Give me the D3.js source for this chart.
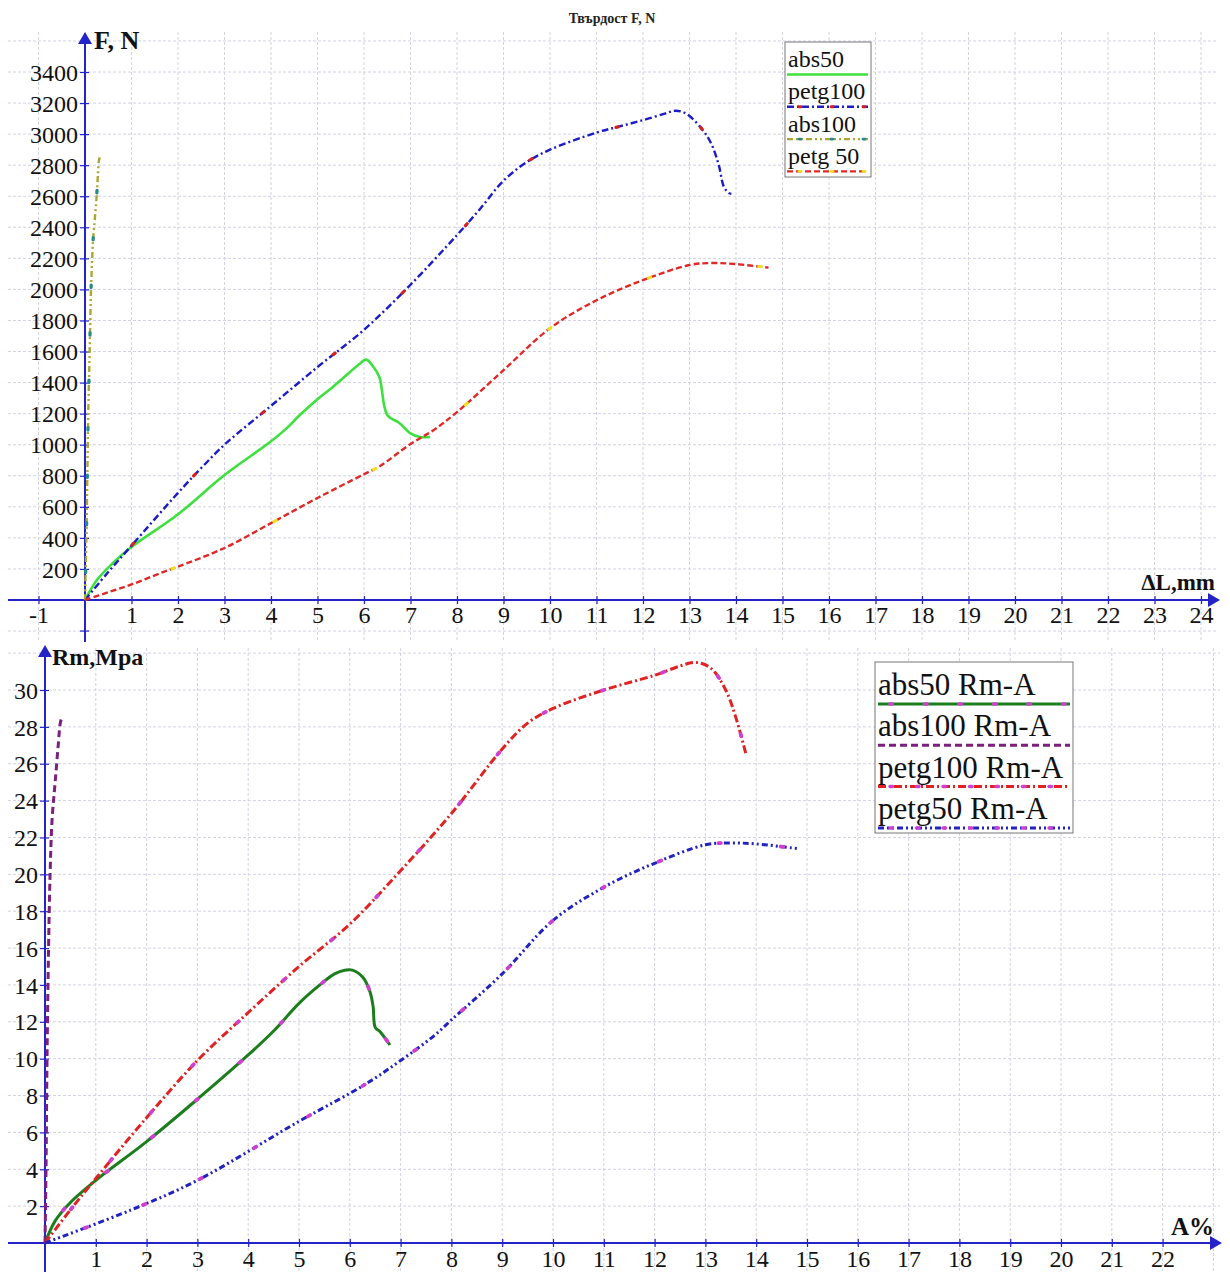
<!DOCTYPE html>
<html><head><meta charset="utf-8">
<script src="https://cdn.jsdelivr.net/npm/d3@7"></script>
<style>body{margin:0;background:#fff}svg{display:block}svg text{font-family:'Liberation Serif','Times New Roman',serif !important}</style>
</head><body>
<svg id="c" width="1230" height="1272"></svg>
<script>
// ---------- DATA ----------
const topTitle = "Твърдост F, N";
const topXTicks = [-1,1,2,3,4,5,6,7,8,9,10,11,12,13,14,15,16,17,18,19,20,21,22,23,24];
const topYTicks = [200,400,600,800,1000,1200,1400,1600,1800,2000,2200,2400,2600,2800,3000,3200,3400];
const botXTicks = [1,2,3,4,5,6,7,8,9,10,11,12,13,14,15,16,17,18,19,20,21,22];
const botYTicks = [2,4,6,8,10,12,14,16,18,20,22,24,26,28,30];

const topNames = ["abs50","petg100","abs100","petg 50"];
const abs50F = [[0,0],[0.26,130],[0.6,238],[0.97,335],[1.98,547],[3.0,805],[3.98,1017],[4.34,1107],[4.62,1191],[4.98,1288],[5.33,1372],[5.7,1468],[5.9,1520],[6.05,1548],[6.18,1510],[6.33,1436],[6.5,1191],[6.76,1140],[6.99,1075],[7.2,1050],[7.42,1050]];
const petg100F = [[0,0],[0.5,180],[1,350],[2,690],[2.5,850],[3,1000],[4,1250],[5,1500],[6,1740],[7,2030],[8,2350],[8.5,2520],[9,2700],[9.5,2820],[10,2900],[11,3010],[11.5,3050],[12,3090],[12.45,3130],[12.7,3150],[12.94,3130],[13.3,3020],[13.48,2930],[13.63,2800],[13.74,2660],[13.85,2620],[13.9,2615]];
const abs100F = [[0,0],[0.03,400],[0.05,800],[0.07,1200],[0.1,1600],[0.13,2000],[0.17,2300],[0.21,2450],[0.25,2600],[0.28,2750],[0.3,2830],[0.33,2860]];
const petg50F = [[0,0],[0.5,50],[1,100],[1.68,180],[2,215],[3,335],[4,495],[5,657],[6,810],[6.33,860],[7,1005],[7.5,1095],[8,1210],[9,1480],[10,1750],[11,1930],[12,2060],[13,2157],[13.5,2170],[14,2163],[14.7,2140]];

const botNames = ["abs50 Rm-A","abs100 Rm-A","petg100 Rm-A","petg50 Rm-A"];
const abs50R = [[0,0],[0.2,1.2],[0.5,2.2],[1,3.4],[2,5.5],[3,7.8],[4,10.2],[4.5,11.5],[5,13.0],[5.41,14.0],[5.7,14.6],[5.9,14.8],[6.05,14.8],[6.26,14.4],[6.4,13.6],[6.46,12.8],[6.5,11.7],[6.6,11.45],[6.79,10.74]];
const abs100R = [[0,0],[0.02,4],[0.04,10],[0.07,16],[0.1,20],[0.14,23],[0.2,25],[0.26,27],[0.3,28.2],[0.33,28.5]];
const petg100R = [[0,0],[0.5,1.8],[1,3.5],[2,6.8],[3,9.9],[4,12.5],[5,15],[6,17.3],[7,20.2],[8,23.3],[9,26.8],[9.5,28.2],[10,29],[11,30],[12,30.8],[12.5,31.3],[12.8,31.5],[13.1,31.2],[13.4,30],[13.6,28.5],[13.8,26.5]];
const petg50R = [[0,0],[1.7,1.8],[3,3.4],[5,6.6],[6.3,8.6],[7,9.9],[7.64,11.2],[8,12.1],[9,14.6],[10,17.5],[11,19.3],[12,20.6],[13,21.6],[13.5,21.7],[14,21.65],[14.8,21.4]];

// ---------- DRAW ----------
const svg = d3.select("#c");
const AX = "#2323c8", GRID = "#d2d2e2", FONT = "'Liberation Serif','Times New Roman',serif";
const fmt = d => String(d);

function panel(o){
  const g = svg.append("g");
  const x = o.x, y = o.y;
  const xs = d3.range(o.gx[0], o.gx[1]+1e-9, o.gx[2]);
  const ys = d3.range(o.gy[0], o.gy[1]+1e-9, o.gy[2]);
  g.selectAll(".vg").data(xs).join("line").attr("x1",d=>x(d)).attr("x2",d=>x(d))
    .attr("y1",o.gridTop).attr("y2",o.gridBot).attr("stroke",GRID).attr("stroke-dasharray","3,2");
  g.selectAll(".hg").data(ys).join("line").attr("y1",d=>y(d)).attr("y2",d=>y(d))
    .attr("x1",o.gridLeft).attr("x2",o.gridRight).attr("stroke",GRID).attr("stroke-dasharray","3,2");
  const x0 = x(0), y0 = y(0);
  g.append("line").attr("x1",o.gridLeft).attr("x2",o.xEnd).attr("y1",y0).attr("y2",y0).attr("stroke",AX).attr("stroke-width",2);
  g.append("line").attr("x1",x0).attr("x2",x0).attr("y1",o.yEnd).attr("y2",o.yBottom).attr("stroke",AX).attr("stroke-width",2);
  g.append("path").attr("d",`M${o.xEnd+8},${y0}L${o.xEnd-4},${y0-7}L${o.xEnd-4},${y0+7}Z`).attr("fill",AX);
  g.append("path").attr("d",`M${x0},${o.yEnd-6}L${x0-7},${o.yEnd+6}L${x0+7},${o.yEnd+6}Z`).attr("fill",AX);
  const xAxis = d3.axisBottom(x).tickValues(o.xTicks).tickSize(0).tickPadding(0).tickFormat(fmt);
  const ax = g.append("g").attr("transform",`translate(0,${y0})`).call(xAxis).attr("font-family",FONT).attr("font-size",24);
  ax.select(".domain").remove();
  ax.selectAll(".tick text").attr("y",o.xLabDy).attr("dy",0).attr("font-size",24).attr("fill","#111").attr("font-family",FONT);
  ax.selectAll(".tick").append("line").attr("y1",-4).attr("y2",4).attr("stroke",AX).attr("stroke-width",1.2);
  const yAxis = d3.axisLeft(y).tickValues(o.yTicks).tickSize(0).tickPadding(0).tickFormat(fmt);
  const ay = g.append("g").attr("transform",`translate(${x0},0)`).call(yAxis).attr("font-family",FONT).attr("font-size",24);
  ay.select(".domain").remove();
  ay.selectAll(".tick text").attr("x",-7).attr("dy","0.34em").attr("font-size",24).attr("fill","#111").attr("font-family",FONT);
  ay.selectAll(".tick").append("line").attr("x1",-5).attr("x2",4).attr("stroke",AX).attr("stroke-width",1.2);
  if(o.extraYTick!==undefined){
    g.append("line").attr("x1",x0-5).attr("x2",x0+4).attr("y1",y(o.extraYTick)).attr("y2",y(o.extraYTick)).attr("stroke",AX).attr("stroke-width",1.2);
  }
  return g;
}

function drawSeries(g, x, y, data, st){
  const line = d3.line().x(d=>x(d[0])).y(d=>y(d[1])).curve(d3.curveCatmullRom.alpha(0.5));
  g.append("path").attr("d",line(data)).attr("fill","none").attr("stroke",st.c).attr("stroke-width",st.w)
    .attr("stroke-dasharray",st.dash||null).attr("stroke-linejoin","round");
  if(st.dot){
    g.append("path").attr("d",line(data)).attr("fill","none").attr("stroke",st.dot).attr("stroke-width",st.w+0.8)
      .attr("stroke-dasharray",st.dotDash||"2,70").attr("stroke-linecap","round").attr("stroke-dashoffset",20);
  }
}
function legendLine(g, x1, x2, yy, st){
  g.append("line").attr("x1",x1).attr("x2",x2).attr("y1",yy).attr("y2",yy).attr("stroke",st.c).attr("stroke-width",st.w)
    .attr("stroke-dasharray",st.dash||null);
  if(st.dot){
    g.append("line").attr("x1",x1).attr("x2",x2).attr("y1",yy).attr("y2",yy).attr("stroke",st.dot).attr("stroke-width",st.w+0.5)
      .attr("stroke-dasharray",st.legDot||"2,30").attr("stroke-linecap","round").attr("stroke-dashoffset",-12);
  }
}

// ---- top panel ----
const xT = d3.scaleLinear().domain([0,24]).range([85,1201]);
const yT = d3.scaleLinear().domain([0,3400]).range([600,72]);
const gT = panel({x:xT,y:yT,gx:[-1,24,1],gy:[-200,3600,200],gridTop:32,gridBot:640,gridLeft:8,gridRight:1218,
  xEnd:1212,yEnd:38,yBottom:642,xTicks:topXTicks,yTicks:topYTicks,xLabDy:23,extraYTick:-200});
const topStyles = [
  {c:"#3de03d",w:2.6},
  {c:"#1c1cc6",w:2.4,dash:"7,3,2,3",dot:"#d82020",dotDash:"2.5,90"},
  {c:"#a8a832",w:2.4,dash:"6,3,2,3,2,3",dot:"#2a8a8a",dotDash:"2.5,45"},
  {c:"#e02828",w:2.4,dash:"6,3",dot:"#f0e020",dotDash:"2.5,110"}
];
[abs50F,petg100F,abs100F,petg50F].forEach((d,i)=>drawSeries(gT,xT,yT,d,topStyles[i]));
svg.append("text").attr("x",612).attr("y",23).attr("text-anchor","middle").attr("font-size",14).attr("font-weight","bold").attr("fill","#222").text(topTitle);
svg.append("text").attr("x",94).attr("y",49).attr("font-size",26).attr("font-weight","bold").attr("fill","#111").text("F, N");
svg.append("text").attr("x",1215).attr("y",590).attr("text-anchor","end").attr("font-size",23).attr("font-weight","bold").attr("fill","#111").text("ΔL,mm");
const lgT = svg.append("g");
lgT.append("rect").attr("x",785).attr("y",42).attr("width",86).attr("height",135).attr("fill","#fff").attr("stroke","#777").attr("stroke-width",1);
topNames.forEach((n,i)=>{
  const by = 67 + i*32.3;
  lgT.append("text").attr("x",788).attr("y",by).attr("font-size",24).attr("fill","#111").text(n);
  legendLine(lgT,787,868,by+7.5,topStyles[i]);
});

// ---- bottom panel ----
const xB = d3.scaleLinear().domain([0,22]).range([45,1162.6]);
const yB = d3.scaleLinear().domain([0,30]).range([1243,690]);
const gB = panel({x:xB,y:yB,gx:[0,23,1],gy:[0,32,2],gridTop:648,gridBot:1272,gridLeft:8,gridRight:1220,
  xEnd:1214,yEnd:651,yBottom:1272,xTicks:botXTicks,yTicks:botYTicks,xLabDy:24});
const botStyles = [
  {c:"#1b7d1b",w:3,dot:"#d040d0",dotDash:"2.5,55",legDot:"2.5,32"},
  {c:"#7d1f7d",w:3,dash:"7,4"},
  {c:"#e02222",w:3,dash:"8,3,2,3",dot:"#d040d0",dotDash:"2.5,60",legDot:"2.5,24"},
  {c:"#2222c0",w:3,dash:"6,3,2,3,2,3",dot:"#d040d0",dotDash:"2.5,60",legDot:"2.5,24"}
];
[abs50R,abs100R,petg100R,petg50R].forEach((d,i)=>drawSeries(gB,xB,yB,d,botStyles[i]));
svg.append("text").attr("x",52).attr("y",665).attr("font-size",24).attr("font-weight","bold").attr("fill","#111").text("Rm,Mpa");
svg.append("text").attr("x",1214).attr("y",1235).attr("text-anchor","end").attr("font-size",25).attr("font-weight","bold").attr("fill","#111").text("A%");
const lgB = svg.append("g");
lgB.append("rect").attr("x",875).attr("y",662).attr("width",198).attr("height",171).attr("fill","#fff").attr("stroke","#777").attr("stroke-width",1);
botNames.forEach((n,i)=>{
  const by = 695 + i*41.3;
  lgB.append("text").attr("x",878).attr("y",by).attr("font-size",31).attr("fill","#111").text(n);
  legendLine(lgB,878,1070,by+9,botStyles[i]);
});
</script>
</body></html>
